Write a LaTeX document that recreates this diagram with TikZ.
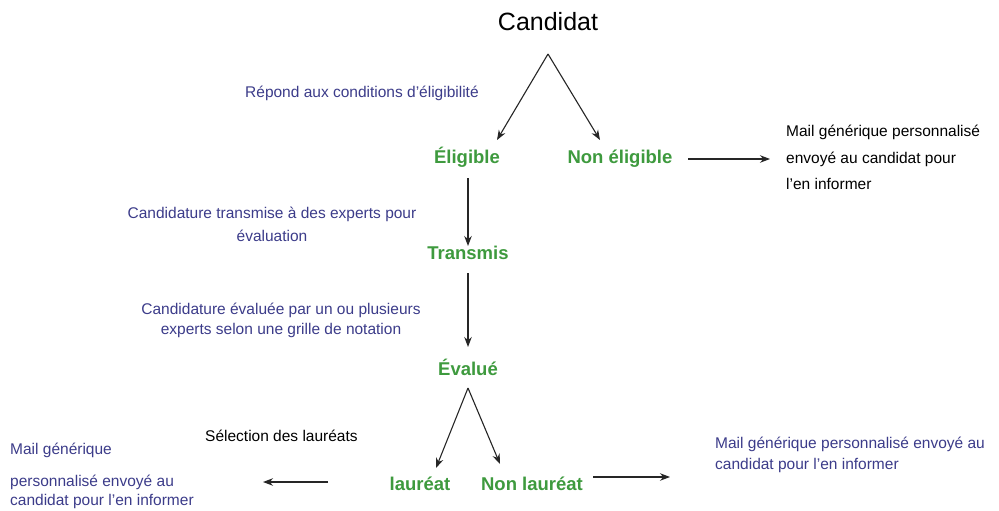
\documentclass[tikz,border=0pt]{standalone}
\usepackage{fontspec}
\setmainfont{Liberation Sans}
\usetikzlibrary{arrows.meta}
\definecolor{bl}{HTML}{3C3C8A}
\definecolor{gr}{HTML}{3E9A3E}
\begin{document}
\begin{tikzpicture}[x=1pt,y=-1pt,
  arr/.style={draw=black!85, line width=1.1pt, -{Stealth[length=10pt,width=7.5pt]}},
  st/.style={font=\fontsize{18.5}{22}\selectfont\bfseries, text=gr, inner sep=0pt},
  bt/.style={font=\fontsize{15.5}{18}\selectfont, text=bl, inner sep=0pt},
  kt/.style={font=\fontsize{15.5}{18}\selectfont, text=black, inner sep=0pt}]
\useasboundingbox[fill=white] (0,0) rectangle (999,511);
% nodes
\node[font=\fontsize{25}{30}\selectfont, inner sep=0pt, anchor=mid] (cand) at (548,28) {Candidat};
\node[bt, anchor=mid west] (rep) at (245,95) {Répond aux conditions d’éligibilité};
\node[st, anchor=mid] (elig) at (467,161) {Éligible};
\node[st, anchor=mid] (nelig) at (620,161) {Non éligible};
\node[kt, anchor=mid west] (m1a) at (786,134) {Mail générique personnalisé};
\node[kt, anchor=mid west] (m1b) at (786,161) {envoyé au candidat pour};
\node[kt, anchor=mid west] (m1c) at (786,187) {l’en informer};
\node[bt, anchor=mid] (tr1) at (272,216) {Candidature transmise à des experts pour};
\node[bt, anchor=mid] (tr2) at (272,239) {évaluation};
\node[st, anchor=mid] (trans) at (468,257) {Transmis};
\node[bt, anchor=mid] (ev1) at (281,312) {Candidature évaluée par un ou plusieurs};
\node[bt, anchor=mid] (ev2) at (281,332) {experts selon une grille de notation};
\node[st, anchor=mid] (eval) at (468,373) {Évalué};
\node[kt, anchor=mid west] (sel) at (205,439) {Sélection des lauréats};
\node[bt, anchor=mid west] (m2a) at (10,452) {Mail générique};
\node[bt, anchor=mid west] (m2b) at (10,484) {personnalisé envoyé au};
\node[bt, anchor=mid west] (m2c) at (10,503) {candidat pour l’en informer};
\node[st, anchor=mid] (laur) at (420,488) {lauréat};
\node[st, anchor=mid] (nlaur) at (532,488) {Non lauréat};
\node[bt, anchor=mid west] (m3a) at (715,446) {Mail générique personnalisé envoyé au};
\node[bt, anchor=mid west] (m3b) at (715,467) {candidat pour l’en informer};
% coordinates
\coordinate (v1) at (548,54);
\coordinate (v1l) at (497,140);
\coordinate (v1r) at (600,140);
\coordinate (v2) at (468,388);
\coordinate (v2l) at (436,468);
\coordinate (v2r) at (500,464);
\coordinate (a1s) at (688,159);
\coordinate (a1e) at (770,159);
\coordinate (a2s) at (328,482);
\coordinate (a2e) at (263,482);
\coordinate (a3s) at (593,477);
\coordinate (a3e) at (670,477);
\coordinate (d1s) at (468,178);
\coordinate (d1e) at (468,246);
\coordinate (d2s) at (468,273);
\coordinate (d2e) at (468,347);
% connectors
\draw[arr] (v1) -- (v1l);
\draw[arr] (v1) -- (v1r);
\draw[arr] (a1s) -- (a1e);
\draw[arr] (d1s) -- (d1e);
\draw[arr] (d2s) -- (d2e);
\draw[arr] (v2) -- (v2l);
\draw[arr] (v2) -- (v2r);
\draw[arr] (a2s) -- (a2e);
\draw[arr] (a3s) -- (a3e);
\end{tikzpicture}
\end{document}
